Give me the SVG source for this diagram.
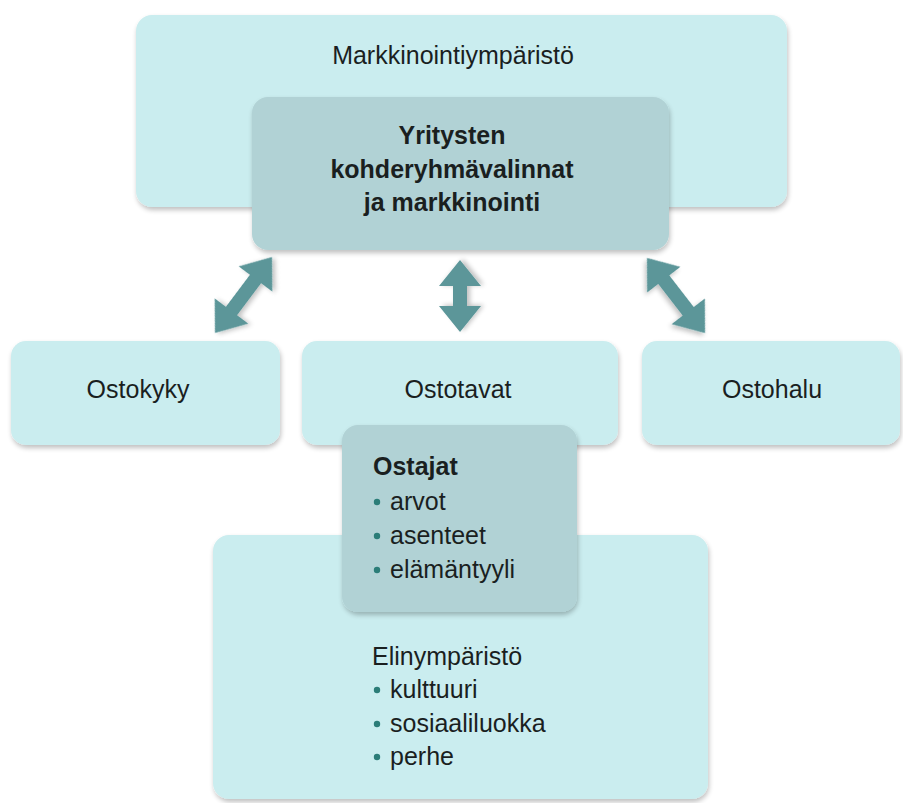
<svg xmlns="http://www.w3.org/2000/svg" width="903" height="803" viewBox="0 0 903 803">
  <defs>
    <filter id="sh" x="-10%" y="-10%" width="120%" height="125%">
      <feGaussianBlur in="SourceAlpha" stdDeviation="2.5"/>
      <feOffset dx="1" dy="3" result="b"/>
      <feComponentTransfer><feFuncA type="linear" slope="0.25"/></feComponentTransfer>
      <feMerge><feMergeNode/><feMergeNode in="SourceGraphic"/></feMerge>
    </filter>
  </defs>
  <style>
    .light{fill:#caedef;filter:url(#sh)}
    .dark{fill:#b1d2d5;filter:url(#sh)}
    text{font-family:'Liberation Sans', sans-serif;font-size:25px;fill:#1a1f1f}
    .b{font-weight:bold}
    .m{text-anchor:middle}
    .dot{fill:#2b7d78}
    .arr{fill:#5b9699;filter:url(#sh)}
  </style>
  <rect width="903" height="803" fill="#ffffff"/>

  <g id="markkinointiymparisto">
    <rect class="light" x="136" y="15" width="651" height="192" rx="16"/>
    <text class="m" x="453" y="64" font-family="Liberation Sans">Markkinointiympäristö</text>
  </g>

  <g id="yritysten">
    <rect class="dark" x="252" y="97" width="417" height="153" rx="16"/>
    <text class="b m" x="452" y="144" font-family="Liberation Sans">Yritysten</text>
    <text class="b m" x="452" y="178" font-family="Liberation Sans">kohderyhmävalinnat</text>
    <text class="b m" x="452" y="211" font-family="Liberation Sans">ja markkinointi</text>
  </g>

  <g id="connectors">
    <path class="arr" transform="translate(243.5,295) rotate(-53.1)" d="M-47.5,0 L-20,-21 L-20,-7 L20,-7 L20,-21 L47.5,0 L20,21 L20,7 L-20,7 L-20,21 Z"/>
    <path class="arr" transform="translate(460,296) rotate(-90)" d="M-36,0 L-10,-21 L-10,-7 L10,-7 L10,-21 L36,0 L10,21 L10,7 L-10,7 L-10,21 Z"/>
    <path class="arr" transform="translate(676,295.5) rotate(52.3)" d="M-47.5,0 L-20,-21 L-20,-7 L20,-7 L20,-21 L47.5,0 L20,21 L20,7 L-20,7 L-20,21 Z"/>
  </g>

  <g id="ostokyky">
    <rect class="light" x="11" y="341" width="269" height="104" rx="15"/>
    <text class="m" x="138" y="398" font-family="Liberation Sans">Ostokyky</text>
  </g>

  <g id="ostotavat">
    <rect class="light" x="302" y="341" width="316" height="104" rx="15"/>
    <text class="m" x="458" y="398" font-family="Liberation Sans">Ostotavat</text>
  </g>

  <g id="ostohalu">
    <rect class="light" x="642" y="341" width="258" height="104" rx="15"/>
    <text class="m" x="772" y="398" font-family="Liberation Sans">Ostohalu</text>
  </g>

  <g id="elinymparisto">
    <rect class="light" x="213" y="535" width="495" height="264" rx="16"/>
    <text x="372" y="665" font-family="Liberation Sans">Elinympäristö</text>
    <circle class="dot" cx="377" cy="690" r="3.2"/>
    <text x="390" y="698" font-family="Liberation Sans">kulttuuri</text>
    <circle class="dot" cx="377" cy="724" r="3.2"/>
    <text x="390" y="732" font-family="Liberation Sans">sosiaaliluokka</text>
    <circle class="dot" cx="377" cy="757" r="3.2"/>
    <text x="390" y="765" font-family="Liberation Sans">perhe</text>
  </g>

  <g id="ostajat">
    <rect class="dark" x="342" y="425" width="235" height="187" rx="16"/>
    <text class="b" x="373" y="475" font-family="Liberation Sans">Ostajat</text>
    <circle class="dot" cx="377" cy="502" r="3.2"/>
    <text x="390" y="510" font-family="Liberation Sans">arvot</text>
    <circle class="dot" cx="377" cy="536" r="3.2"/>
    <text x="390" y="544" font-family="Liberation Sans">asenteet</text>
    <circle class="dot" cx="377" cy="570" r="3.2"/>
    <text x="390" y="578" font-family="Liberation Sans">elämäntyyli</text>
  </g>
</svg>
